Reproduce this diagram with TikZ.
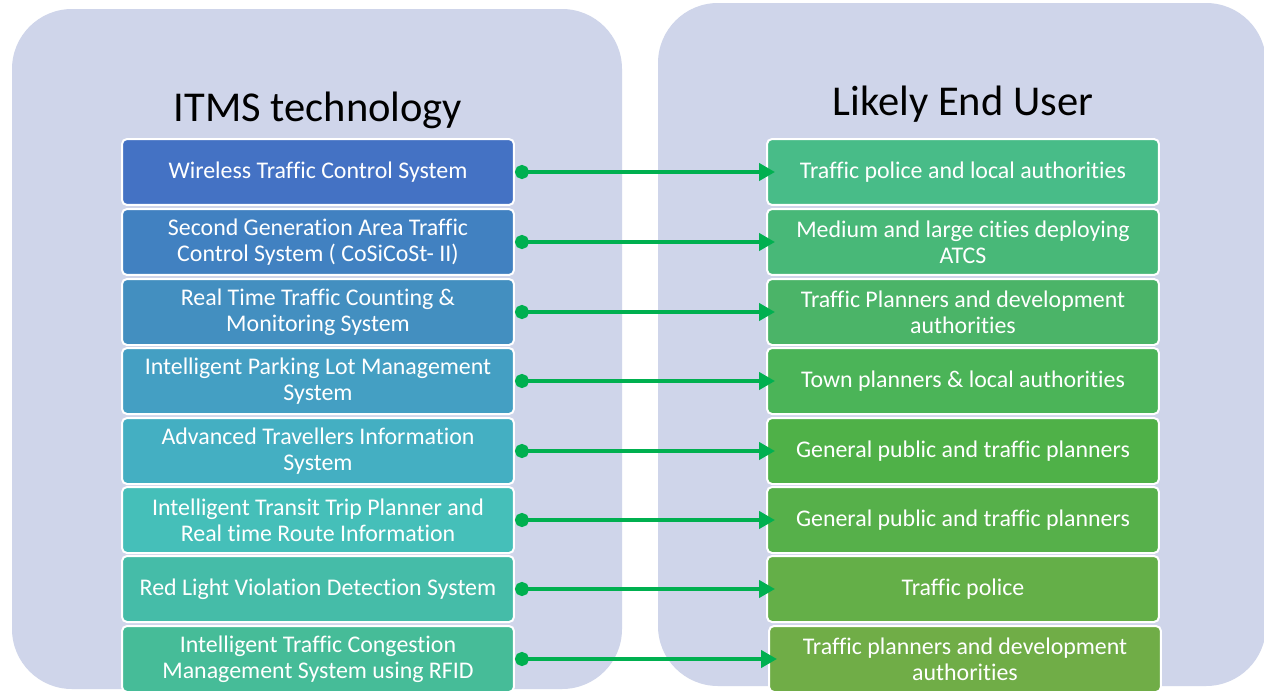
\documentclass[tikz,border=0pt]{standalone}
\usepackage{fontspec}
\setmainfont{Carlito}[Ligatures=NoCommon]
\usepackage{tikz}
\usetikzlibrary{arrows.meta}
\usepackage{xcolor}
\definecolor{panelcolor}{RGB}{207,213,234}
\definecolor{linkcolor}{RGB}{0,176,80}
\definecolor{techA}{RGB}{68,114,196}
\definecolor{techB}{RGB}{65,129,193}
\definecolor{techC}{RGB}{67,143,192}
\definecolor{techD}{RGB}{68,159,195}
\definecolor{techE}{RGB}{68,175,194}
\definecolor{techF}{RGB}{69,191,185}
\definecolor{techG}{RGB}{69,188,168}
\definecolor{techH}{RGB}{70,188,152}
\definecolor{userA}{RGB}{72,188,136}
\definecolor{userB}{RGB}{72,184,120}
\definecolor{userC}{RGB}{75,180,104}
\definecolor{userD}{RGB}{75,180,88}
\definecolor{userE}{RGB}{79,177,72}
\definecolor{userF}{RGB}{86,176,74}
\definecolor{userG}{RGB}{100,175,72}
\definecolor{userH}{RGB}{112,173,71}

\begin{document}
\begin{tikzpicture}[
  x=0.02cm, y=-0.02cm,
  panel/.style={fill=panelcolor,draw=none,rounded corners=1.2cm},
  title/.style={font=\fontsize{24.2}{28}\selectfont,text=black},
  itembox/.style={rectangle,draw=white,line width=0.04cm,rounded corners=0.1cm,
    minimum width=7.84cm,minimum height=1.32cm,text=white,align=center,
    font=\fontsize{13.6}{14.8}\selectfont},
  link/.style={draw=linkcolor,line width=0.08cm,
    {Circle[length=0.28cm]}-{Triangle[length=0.32cm,width=0.34cm]},shorten >=-0.18cm}
]
  \clip (0,0) rectangle (1264,690);
  \useasboundingbox (0,0) rectangle (1264,690);
  \fill[white] (0,0) rectangle (1264,690);
  % two panels with their headings
  \path[panel] (12,9) rectangle (622,689);
  \path[panel] (658,3) rectangle (1266,686);
  \node[title] (techtitle) at (318,110) {ITMS technology};
  \node[title] (usertitle) at (963,104) {Likely End User};
  % technologies
  \node[itembox,fill=techA] (t1) at (318,172) {Wireless Traffic Control System};
  \node[itembox,fill=techB] (t2) at (318,242) {Second Generation Area Traffic\\Control System ( CoSiCoSt- II)};
  \node[itembox,fill=techC] (t3) at (318,312) {Real Time Traffic Counting \&\\Monitoring System};
  \node[itembox,fill=techD] (t4) at (318,381) {Intelligent Parking Lot Management\\System};
  \node[itembox,fill=techE] (t5) at (318,451) {Advanced Travellers Information\\System};
  \node[itembox,fill=techF] (t6) at (318,520) {Intelligent Transit Trip Planner and\\Real time Route Information};
  \node[itembox,fill=techG] (t7) at (318,589) {Red Light Violation Detection System};
  \node[itembox,fill=techH] (t8) at (318,659) {Intelligent Traffic Congestion\\Management System using RFID};
  % end users
  \node[itembox,fill=userA] (u1) at (963,172) {Traffic police and local authorities};
  \node[itembox,fill=userB] (u2) at (963,242) {Medium and large cities deploying\\ATCS};
  \node[itembox,fill=userC] (u3) at (963,312) {Traffic Planners and development\\authorities};
  \node[itembox,fill=userD] (u4) at (963,381) {Town planners \& local authorities};
  \node[itembox,fill=userE] (u5) at (963,451) {General public and traffic planners};
  \node[itembox,fill=userF] (u6) at (963,520) {General public and traffic planners};
  \node[itembox,fill=userG] (u7) at (963,589) {Traffic police};
  \node[itembox,fill=userH] (u8) at (965,659) {Traffic planners and development\\authorities};
  \foreach \i in {1,...,8}
    \draw[link] (t\i.east) -- (u\i.west |- t\i.east);
\end{tikzpicture}
\end{document}
